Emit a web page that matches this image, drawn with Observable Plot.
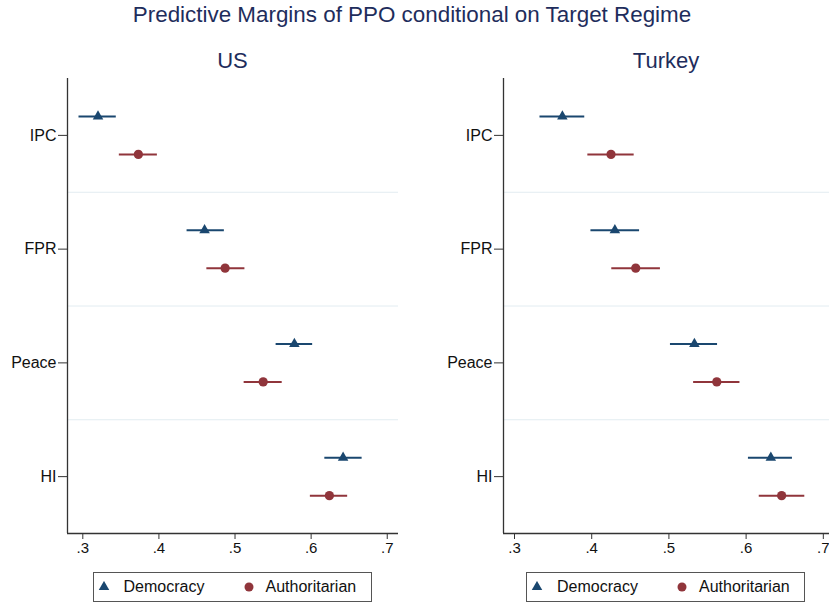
<!DOCTYPE html>
<html>
<head>
<meta charset="utf-8">
<script src="https://cdn.jsdelivr.net/npm/d3@7"></script>
<script src="https://cdn.jsdelivr.net/npm/@observablehq/plot@0.6"></script>
<style>
  html, body { margin: 0; padding: 0; background: #fff; }
  body { width: 829px; height: 604px; position: relative; overflow: hidden;
         font-family: "Liberation Sans", Arial, Helvetica, sans-serif; }
  .title { position: absolute; left: 0; width: 824px; top: 4px; text-align: center;
           font-size: 22.4px; line-height: 22px; color: #1e2d5c; white-space: nowrap; }
  .ptitle { position: absolute; top: 50px; text-align: center; font-size: 22px;
            line-height: 22px; color: #1e2d5c; white-space: nowrap; }
  .panel { position: absolute; top: 70px; }
  .legend { position: absolute; top: 572px; width: 277px; height: 28px;
            border: 1px solid #555; box-sizing: content-box; }
  .legend .item { position: absolute; top: 0; height: 28px; display: flex; align-items: center;
                  font-size: 16px; color: #111; }
  .legend svg { display: block; }
</style>
</head>
<body>
<div class="title">Predictive Margins of PPO conditional on Target Regime</div>
<div id="root"></div>
<script>
// ---- data ----
const categories = ["IPC", "FPR", "Peace", "HI"];
const seriesNames = ["Democracy", "Authoritarian"];
const panelNames = ["US", "Turkey"];
const xTicks = [0.3, 0.4, 0.5, 0.6, 0.7];

// US
const usDemMean  = [0.320, 0.460, 0.578, 0.642];
const usDemLo    = [0.295, 0.437, 0.554, 0.618];
const usDemHi    = [0.344, 0.486, 0.602, 0.667];
const usAuthMean = [0.373, 0.487, 0.537, 0.624];
const usAuthLo   = [0.348, 0.463, 0.512, 0.599];
const usAuthHi   = [0.398, 0.513, 0.562, 0.648];

// Turkey
const trDemMean  = [0.362, 0.430, 0.533, 0.632];
const trDemLo    = [0.333, 0.399, 0.502, 0.603];
const trDemHi    = [0.391, 0.462, 0.563, 0.660];
const trAuthMean = [0.425, 0.457, 0.562, 0.646];
const trAuthLo   = [0.395, 0.426, 0.532, 0.617];
const trAuthHi   = [0.455, 0.489, 0.592, 0.676];

// ---- styling ----
const navy = "#1a476f";
const maroon = "#90353b";
const fontFamily = '"Liberation Sans", Arial, Helvetica, sans-serif';

function rows(mean, lo, hi) {
  return categories.map((c, i) => ({cat: c, i, mean: mean[i], lo: lo[i], hi: hi[i]}));
}

function panel(dem, auth, xDomain, opts) {
  const yDomain = [3.5, -0.5];
  return Plot.plot({
    width: opts.width,
    height: 498,
    marginTop: 8,
    marginBottom: 35,
    marginLeft: 67,
    marginRight: opts.marginRight,
    style: {fontFamily, color: "#111", background: "#fff", overflow: "visible"},
    x: {domain: xDomain, axis: null},
    y: {domain: yDomain, axis: null},
    marks: [
      Plot.ruleY([0.5, 1.5, 2.5], {stroke: "#e2ecf1", strokeWidth: 1}),
      Plot.ruleY(dem, {y: "i", x1: "lo", x2: "hi", dy: -19, stroke: navy, strokeWidth: 2}),
      Plot.dot(dem, {x: "mean", y: "i", dy: -19, symbol: "triangle", r: 3.9, fill: navy, stroke: "none"}),
      Plot.ruleY(auth, {y: "i", x1: "lo", x2: "hi", dy: 19, stroke: maroon, strokeWidth: 2}),
      Plot.dot(auth, {x: "mean", y: "i", dy: 19, symbol: "circle", r: 4.6, fill: maroon, stroke: "none"}),
      Plot.ruleX([xDomain[0]], {stroke: "#333", strokeWidth: 1.3}),
      Plot.ruleY([yDomain[0]], {stroke: "#333", strokeWidth: 1.3}),
      Plot.axisY({ticks: [0, 1, 2, 3], tickFormat: i => categories[i], tickSize: 9, tickPadding: 2,
                  fontSize: 16, label: null, stroke: "#333", fill: "#111"}),
      Plot.axisX({ticks: xTicks, tickFormat: d => String(d).replace(/^0/, ""), tickSize: 6,
                  tickPadding: 3, fontSize: 15, label: null, stroke: "#333", fill: "#111"})
    ]
  });
}

const root = document.getElementById("root");

function addPanel(name, left, width, marginRight, xDomain, dem, auth) {
  const div = document.createElement("div");
  div.className = "panel";
  div.style.left = left + "px";
  div.appendChild(panel(dem, auth, xDomain, {width, marginRight}));
  root.appendChild(div);

  const plotLeft = left + 67, plotRight = left + width - marginRight;
  const center = (plotLeft + plotRight) / 2;

  const t = document.createElement("div");
  t.className = "ptitle";
  t.textContent = name;
  t.style.left = (center - 100) + "px";
  t.style.width = "200px";
  root.appendChild(t);

  const lg = document.createElement("div");
  lg.className = "legend";
  lg.style.left = (center - 140) + "px";
  const tri = `<svg width="12" height="12" viewBox="-6 -6 12 12"><path d="${d3.symbol(d3.symbolTriangle, 48)()}" fill="${navy}"/></svg>`;
  const cir = `<svg width="12" height="12" viewBox="-6 -6 12 12"><circle r="4.5" fill="${maroon}"/></svg>`;
  lg.innerHTML =
    `<div class="item" style="left:4px">${tri}<span style="margin-left:14px">${seriesNames[0]}</span></div>` +
    `<div class="item" style="left:149px">${cir}<span style="margin-left:11px">${seriesNames[1]}</span></div>`;
  root.appendChild(lg);
}

addPanel(panelNames[0], 0, 414, 16, [0.2799, 0.7148],
         rows(usDemMean, usDemLo, usDemHi), rows(usAuthMean, usAuthLo, usAuthHi));
addPanel(panelNames[1], 436, 393, 0, [0.28575, 0.708],
         rows(trDemMean, trDemLo, trDemHi), rows(trAuthMean, trAuthLo, trAuthHi));
</script>
</body>
</html>
